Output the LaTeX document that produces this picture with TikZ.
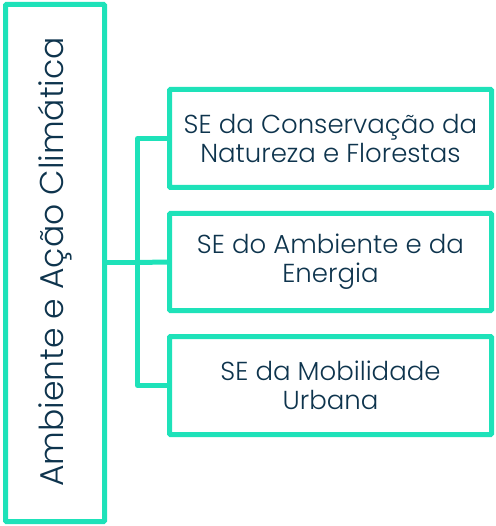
\documentclass[tikz,border=0pt]{standalone}
\usepackage{fontspec}
\setmainfont{Poppins}[UprightFont=* Light]
\usetikzlibrary{positioning}
\definecolor{teal1}{RGB}{30,226,185}
\definecolor{navy1}{RGB}{14,52,77}
\tikzset{
	box/.style={draw=teal1, line width=5pt, rounded corners=1pt, text=navy1, align=center, inner sep=0pt},
	sebox/.style={box, minimum width=322pt, minimum height=98pt, font=\fontsize{26}{29}\selectfont},
	link/.style={draw=teal1, line width=5pt},
}

\begin{document}
\begin{tikzpicture}[x=1pt, y=-1pt]
				\useasboundingbox (0,0) rectangle (495,526);
				\node[box, minimum width=99pt, minimum height=517pt] (amb) at (55,263) {};
				\node[rotate=90, text=navy1, font=\fontsize{33}{38}\selectfont] (ambt) at (55,262) {Ambiente e Ação Climática};
				\node[sebox] (cnf) at (330.5,138.5) {SE da Conservação da\\Natureza e Florestas};
				\node[sebox, minimum height=97pt] (ae) at (330.5,262) {SE do Ambiente e da\\Energia};
				\node[sebox] (mu) at (330.5,385.5) {SE da Mobilidade\\Urbana};
				\coordinate (hub) at (137.5,262.5);
				\draw[link] (amb.east |- hub) -- (hub);
				\draw[link, line join=round] (cnf.west) -- (cnf.west -| hub) -- (mu.west -| hub) -- (mu.west);
				\draw[link] (hub) -- (ae.west);
			\end{tikzpicture}
\end{document}
